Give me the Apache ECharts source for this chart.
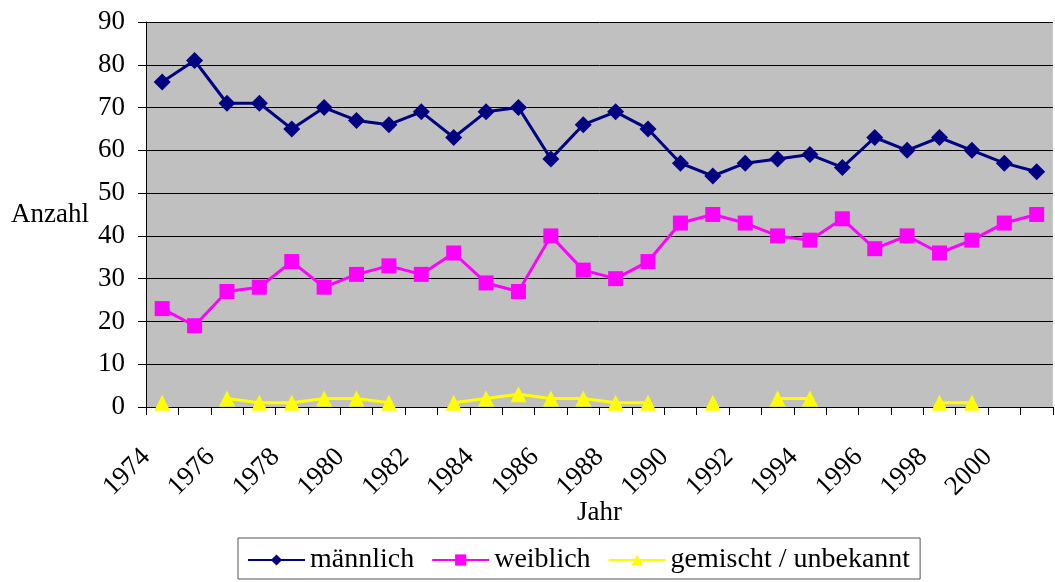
<!DOCTYPE html>
<html>
<head>
    <meta charset="UTF-8">
    <title></title>
    <script type="text/javascript" src="https://cdn.jsdelivr.net/npm/echarts@6/dist/echarts.min.js"></script>
    <style type="text/css">
        body { margin: 0; background: #fff; }
        #chart { width: 1055px; height: 582px; }
    </style>
</head>
<body>
<div id="chart"></div>
<script type="text/javascript">
    var years = ['1974','1975','1976','1977','1978','1979','1980','1981','1982','1983',
                 '1984','1985','1986','1987','1988','1989','1990','1991','1992','1993',
                 '1994','1995','1996','1997','1998','1999','2000','2001'];
    var maennlich = [76, 81, 71, 71, 65, 70, 67, 66, 69, 63, 69, 70, 58, 66, 69, 65, 57, 54, 57, 58, 59, 56, 63, 60, 63, 60, 57, 55];
    var weiblich  = [23, 19, 27, 28, 34, 28, 31, 33, 31, 36, 29, 27, 40, 32, 30, 34, 43, 45, 43, 40, 39, 44, 37, 40, 36, 39, 43, 45];
    var gemischt  = [1, null, 2, 1, 1, 2, 2, 1, null, 1, 2, 3, 2, 2, 1, 1, null, 1, null, 2, 2, null, null, null, 1, 1, null, null];

    var font = '"Liberation Serif", "Times New Roman", serif';
    var fs = 27;
    var chart = echarts.init(document.getElementById('chart'));

    chart.setOption({
        animation: false,
        textStyle: { fontFamily: font, color: '#000' },
        grid: {
            left: 146, right: -9, top: 22, bottom: 175,
            show: true, backgroundColor: '#c0c0c0', borderWidth: 0
        },
        legend: {
            top: 538,
            left: 238,
            padding: [8, 10, 5, 9],
            borderColor: '#555',
            borderWidth: 1,
            borderRadius: 0,
            backgroundColor: '#fff',
            itemWidth: 57,
            itemHeight: 14,
            itemGap: 17,
            textStyle: { fontFamily: font, fontSize: 28, color: '#000' },
            data: ['männlich', 'weiblich', 'gemischt / unbekannt']
        },
        xAxis: [{
            type: 'category',
            data: years,
            name: 'Jahr',
            nameLocation: 'middle',
            nameGap: 92,
            nameMoveOverlap: false,
            nameTextStyle: { fontFamily: font, fontSize: fs, color: '#000' },
            axisLine: { lineStyle: { color: '#000', width: 1 } },
            axisTick: { show: true, length: 8, interval: 0, lineStyle: { color: '#000' } },
            axisLabel: { show: false },
            splitLine: { show: false }
        }, {
            // label axis: years sit on the tick marks like in the original
            type: 'category',
            boundaryGap: false,
            data: years.concat(['']),
            position: 'bottom',
            axisLine: { show: false },
            axisTick: { show: false },
            axisLabel: {
                interval: 1,
                rotate: 45,
                margin: 46,
                fontFamily: font,
                fontSize: fs,
                color: '#000'
            },
            splitLine: { show: false }
        }],
        yAxis: {
            type: 'value',
            min: 0,
            max: 90,
            interval: 10,
            name: 'Anzahl',
            nameLocation: 'middle',
            nameRotate: 0,
            nameGap: 57,
            nameMoveOverlap: false,
            nameTextStyle: { fontFamily: font, fontSize: fs, color: '#000' },
            axisLine: { show: true, lineStyle: { color: '#000', width: 1 } },
            axisTick: { show: true, length: 8, lineStyle: { color: '#000' } },
            axisLabel: { margin: 21, fontFamily: font, fontSize: fs, color: '#000' },
            splitLine: { show: true, lineStyle: { color: '#000', width: 1 } }
        },
        series: [
            {
                name: 'männlich',
                type: 'line',
                data: maennlich,
                symbol: 'diamond',
                symbolSize: 17,
                lineStyle: { color: '#000080', width: 3 },
                itemStyle: { color: '#000080' }
            },
            {
                name: 'weiblich',
                type: 'line',
                data: weiblich,
                symbol: 'rect',
                symbolSize: 15,
                lineStyle: { color: '#ff00ff', width: 3 },
                itemStyle: { color: '#ff00ff' }
            },
            {
                name: 'gemischt / unbekannt',
                type: 'line',
                data: gemischt,
                connectNulls: false,
                symbol: 'triangle',
                symbolSize: 16,
                lineStyle: { color: '#ffff00', width: 3 },
                itemStyle: { color: '#ffff00' }
            }
        ]
    });
</script>
</body>
</html>
